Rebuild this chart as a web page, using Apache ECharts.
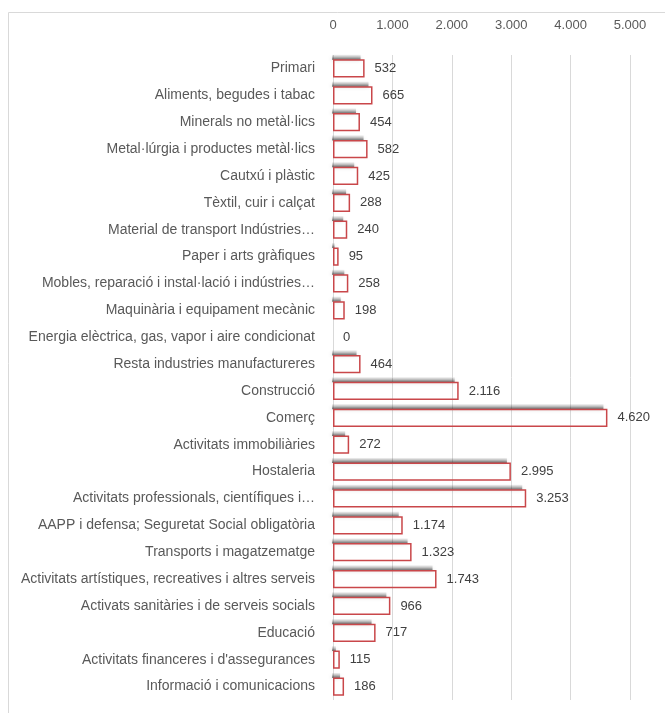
<!DOCTYPE html>
<html lang="ca">
<head>
  <meta charset="UTF-8">
  <title>Sectors</title>
  <script src="https://cdn.jsdelivr.net/npm/echarts@6/dist/echarts.min.js"></script>
  <style>
    html, body { margin: 0; padding: 0; background: #fff; }
    #chart { width: 665px; height: 713px; }
  </style>
</head>
<body>
<div id="chart"></div>
<script>
  // categories (top to bottom)
  var sectors = [
    'Primari',
    'Aliments, begudes i tabac',
    'Minerals no metàl·lics',
    'Metal·lúrgia i productes metàl·lics',
    'Cautxú i plàstic',
    'Tèxtil, cuir i calçat',
    'Material de transport Indústries…',
    'Paper i arts gràfiques',
    'Mobles, reparació i instal·lació i indústries…',
    'Maquinària i equipament mecànic',
    'Energia elèctrica, gas, vapor i aire condicionat',
    'Resta industries manufactureres',
    'Construcció',
    'Comerç',
    'Activitats immobiliàries',
    'Hostaleria',
    'Activitats professionals, científiques i…',
    'AAPP i defensa; Seguretat Social obligatòria',
    'Transports i magatzematge',
    'Activitats artístiques, recreatives i altres serveis',
    'Activats sanitàries i de serveis socials',
    'Educació',
    'Activitats financeres i d\'assegurances',
    'Informació i comunicacions'
  ];
  var valors = [532, 665, 454, 582, 425, 288, 240, 95, 258, 198, 0, 464, 2116, 4620, 272, 2995, 3253, 1174, 1323, 1743, 966, 717, 115, 186];

  function fmt(v) {
    return String(v).replace(/\B(?=(\d{3})+(?!\d))/g, '.');
  }

  var chart = echarts.init(document.getElementById('chart'));
  var font = 'Liberation Sans';
  var barFrac = 0.68;

  // soft grey shadow that sits on top of every bar
  function shadowItem(params, api) {
    var v = api.value(0);
    if (!v) return null;
    var start = api.coord([0, api.value(1)]);
    var end = api.coord([v, api.value(1)]);
    var h = api.size([0, 1])[1] * barFrac;
    var top = start[1] - h / 2;
    var w = Math.max(2, end[0] - start[0] - 3);
    return {
      type: 'rect',
      shape: { x: start[0] - 1, y: top - 5, width: w, height: 5.5 },
      style: {
        fill: new echarts.graphic.LinearGradient(0, 0, 0, 1, [
          { offset: 0, color: 'rgba(0,0,0,0)' },
          { offset: 0.5, color: 'rgba(0,0,0,0.22)' },
          { offset: 1, color: 'rgba(0,0,0,0.55)' }
        ]),
        shadowBlur: 4,
        shadowColor: 'rgba(0,0,0,0.3)'
      }
    };
  }

  chart.setOption({
    animation: false,
    graphic: [{
      type: 'rect',
      shape: { x: 8.5, y: 12.5, width: 700, height: 720 },
      style: { fill: 'none', stroke: '#d9d9d9', lineWidth: 1 },
      silent: true
    }],
    grid: { left: 333, right: 35, top: 55, bottom: 13 },
    xAxis: {
      type: 'value',
      position: 'top',
      min: 0,
      max: 5000,
      interval: 1000,
      axisLine: { show: false },
      axisTick: { show: false },
      splitLine: { lineStyle: { color: '#d9d9d9', width: 1 } },
      axisLabel: {
        margin: 23,
        color: '#595959',
        fontFamily: font,
        fontSize: 13,
        formatter: fmt
      }
    },
    yAxis: {
      type: 'category',
      data: sectors,
      inverse: true,
      axisLine: { show: false },
      axisTick: { show: false },
      axisLabel: {
        margin: 18,
        color: '#595959',
        fontFamily: font,
        fontSize: 14
      }
    },
    series: [{
      type: 'custom',
      renderItem: shadowItem,
      data: valors.map(function (v, i) { return [v, i]; }),
      encode: { x: 0, y: 1 },
      silent: true,
      z: 1
    }, {
      type: 'bar',
      data: valors.map(function (v) {
        return v === 0 ? { value: v, itemStyle: { borderWidth: 0 } } : v;
      }),
      barWidth: (barFrac * 100) + '%',
      z: 2,
      itemStyle: {
        color: 'rgba(255,255,255,0)',
        borderColor: '#c9474a',
        borderWidth: 1.5
      },
      label: {
        show: true,
        position: 'right',
        distance: 10,
        color: '#404040',
        fontFamily: font,
        fontSize: 13,
        formatter: function (p) { return fmt(p.value); }
      }
    }]
  });
</script>
</body>
</html>
